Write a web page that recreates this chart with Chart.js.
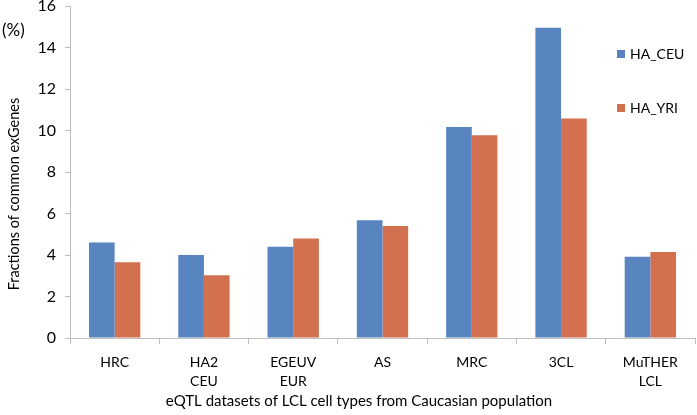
<!DOCTYPE html>
<html>
<head>
<meta charset="utf-8">
<script src="https://cdn.jsdelivr.net/npm/chart.js@4/dist/chart.umd.min.js"></script>
<style>
html,body{margin:0;padding:0;background:#fff;}
#wrap{width:697px;height:415px;position:relative;}
</style>
</head>
<body>
<div id="wrap"><canvas id="c" width="697" height="415"></canvas></div>
<script>
const categories = [["HRC"], ["HA2", "CEU"], ["EGEUV", "EUR"], ["AS"], ["MRC"], ["3CL"], ["MuTHER", "LCL"]];
const seriesNames = ["HA_CEU", "HA_YRI"];
const haCeu = [4.6, 4.0, 4.4, 5.68, 10.17, 14.95, 3.92];
const haYri = [3.65, 3.03, 4.8, 5.4, 9.77, 10.58, 4.15];
const yTicks = [0, 2, 4, 6, 8, 10, 12, 14, 16];
const yUnit = "(%)";
const yTitle = "Fractions of common exGenes";
const xTitle = "eQTL datasets of LCL cell types from Caucasian population";

const colors = ["#5885c0", "#d3704f"];
const axisColor = "#bfbfbf";
const FONT = "Lato, 'Open Sans', sans-serif";

const textPlugin = {
  id: "texts",
  afterDraw(chart) {
    const ctx = chart.ctx;
    ctx.save();
    ctx.fillStyle = "#000";
    ctx.font = "17px " + FONT;
    ctx.textBaseline = "middle";
    ctx.textAlign = "left";
    ctx.fillText(yUnit, 2, 31);
    // y title
    ctx.save();
    ctx.translate(14, 194);
    ctx.rotate(-Math.PI / 2);
    ctx.textAlign = "center";
    ctx.font = "14.5px " + FONT;
    ctx.fillText(yTitle, 0, 0);
    ctx.restore();
    // x title
    ctx.textAlign = "center";
    ctx.font = "15px " + FONT;
    ctx.fillText(xTitle, 359, 401);
    // legend
    ctx.font = "14px " + FONT;
    ctx.textAlign = "left";
    const ly = [54, 108];
    chart.data.datasets.forEach((ds, i) => {
      ctx.fillStyle = ds.backgroundColor;
      ctx.fillRect(617, ly[i] - 4, 8, 8);
      ctx.fillStyle = "#000";
      ctx.fillText(ds.label, 630, ly[i]);
    });
    ctx.restore();
  }
};

new Chart(document.getElementById("c"), {
  type: "bar",
  data: {
    labels: categories,
    datasets: [
      { label: seriesNames[0], data: haCeu, backgroundColor: colors[0] },
      { label: seriesNames[1], data: haYri, backgroundColor: colors[1] }
    ]
  },
  options: {
    responsive: false,
    animation: false,
    devicePixelRatio: 1,
    layout: { padding: { top: 6, right: 2, left: 0, bottom: 0 } },
    plugins: { legend: { display: false }, tooltip: { enabled: false } },
    datasets: { bar: { categoryPercentage: 0.575, barPercentage: 1.0 } },
    scales: {
      x: {
        grid: { display: true, drawOnChartArea: false, drawTicks: true, tickLength: 6, color: axisColor, offset: true },
        border: { color: axisColor },
        ticks: { color: "#000", font: { family: FONT, size: 14, lineHeight: 1.35 }, padding: 9, maxRotation: 0, autoSkip: false },
        afterFit(s) { s.height = 77; s.paddingLeft = 0; s.paddingRight = 0; }
      },
      y: {
        min: 0, max: 16,
        afterBuildTicks(s) { s.ticks = yTicks.map(v => ({ value: v })); },
        grid: { display: true, drawOnChartArea: false, drawTicks: true, tickLength: 5, color: axisColor },
        border: { color: axisColor },
        ticks: { color: "#000", font: { family: FONT, size: 16 }, padding: 9 },
        afterFit(s) { s.width = 70; s.paddingTop = 0; s.paddingBottom = 0; }
      }
    }
  },
  plugins: [textPlugin]
});
</script>
</body>
</html>
